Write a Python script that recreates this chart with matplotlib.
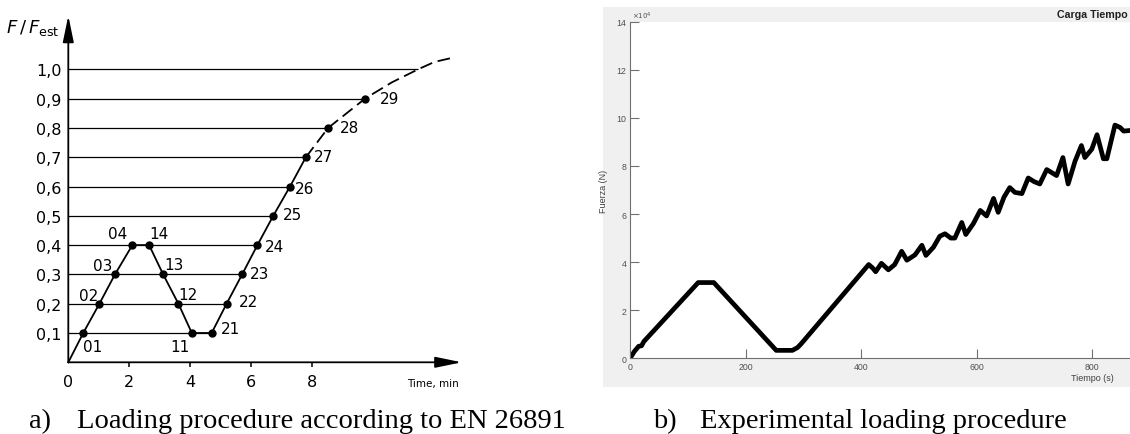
import matplotlib
matplotlib.use("Agg")
import matplotlib.pyplot as plt
from matplotlib.patches import Rectangle

# ---------------- data: (a) EN 26891 loading procedure ----------------
levels = [0.1, 0.2, 0.3, 0.4, 0.5, 0.6, 0.7, 0.8, 0.9, 1.0]
level_labels = ["0,1", "0,2", "0,3", "0,4", "0,5", "0,6", "0,7", "0,8", "0,9", "1,0"]
x_ticks_a = [0, 2, 4, 6, 8]

# first loading (01-04), unloading (14-11), reloading (21-29)  [min]
t_load1 = [0.49, 1.02, 1.53, 2.10]
f_load1 = [0.1, 0.2, 0.3, 0.4]
lab_load1 = ["01", "02", "03", "04"]
t_unload = [2.65, 3.11, 3.61, 4.05]
f_unload = [0.4, 0.3, 0.2, 0.1]
lab_unload = ["14", "13", "12", "11"]
t_load2 = [4.70, 5.19, 5.70, 6.20, 6.72, 7.27, 7.79, 8.52, 9.73]
f_load2 = [0.1, 0.2, 0.3, 0.4, 0.5, 0.6, 0.7, 0.8, 0.9]
lab_load2 = ["21", "22", "23", "24", "25", "26", "27", "28", "29"]
# horizontal guide lines end where they meet the curve
t_level_end = [4.70, 5.19, 5.70, 6.20, 6.72, 7.27, 7.79, 8.52, 9.73, 11.47]
# dashed (estimated) continuation of the curve
t_dash = [7.79, 8.52, 9.73, 10.6, 11.47, 12.0, 12.62]
f_dash = [0.7, 0.8, 0.9, 0.955, 1.0, 1.025, 1.04]

# ---------------- data: (b) experimental loading ----------------
t_exp = [0, 8, 15, 20, 24, 118, 145, 253, 281, 290, 296, 413, 420, 425, 435,
         447, 458, 470, 479, 493, 505, 512, 525, 536, 545, 555, 562, 574, 581,
         594, 606, 617, 629, 637, 647, 657, 666, 678, 689, 699, 709, 721, 738,
         749, 758, 770, 781, 787, 799, 808, 819, 825, 839, 848, 854, 875]
f_exp = [0, 0.3, 0.5, 0.52, 0.7, 3.15, 3.15, 0.33, 0.33, 0.45, 0.6, 3.9, 3.75,
         3.6, 3.95, 3.68, 3.9, 4.45, 4.08, 4.3, 4.7, 4.28, 4.62, 5.08, 5.18,
         5.0, 5.0, 5.65, 5.15, 5.6, 6.15, 5.92, 6.65, 6.07, 6.7, 7.1, 6.9,
         6.85, 7.5, 7.35, 7.25, 7.85, 7.6, 8.35, 7.25, 8.2, 8.85, 8.35, 8.7,
         9.3, 8.3, 8.3, 9.7, 9.6, 9.45, 9.5]
y_ticks_b = [0, 2, 4, 6, 8, 10, 12, 14]
x_ticks_b = [0, 200, 400, 600, 800]

W, H = 1130, 435
fig = plt.figure(figsize=(W / 100, H / 100), dpi=100)


def frac_box(x0, y_top, x1, y_bot):
    return [x0 / W, (H - y_bot) / H, (x1 - x0) / W, (y_bot - y_top) / H]


# ================= panel (a) =================
x_max_a, y_max_a = 12.9, 1.183
axa = fig.add_axes(frac_box(68.3, 363.3 - 293 * y_max_a, 68.3 + 30.5 * x_max_a, 363.3))
axa.set_xlim(0, x_max_a)
axa.set_ylim(0, y_max_a)
for s in axa.spines.values():
    s.set_visible(False)
axa.patch.set_alpha(0)

arrow_kw = dict(arrowstyle="-|>,head_length=1.6,head_width=0.33", color="black",
                lw=1.3, shrinkA=0, shrinkB=0, mutation_scale=10)
axa.annotate("", xy=(x_max_a, 0), xytext=(0, 0), arrowprops=arrow_kw,
             annotation_clip=False)
axa.annotate("", xy=(0, y_max_a), xytext=(0, 0), arrowprops=arrow_kw,
             annotation_clip=False)

axa.hlines(levels, 0, t_level_end, color="black", lw=0.9)

t_main = [0] + t_load1 + t_unload + t_load2[:7]
f_main = [0] + f_load1 + f_unload + f_load2[:7]
axa.plot(t_main, f_main, color="black", lw=1.3, solid_joinstyle="round",
         clip_on=False)
axa.plot(t_dash, f_dash, color="black", lw=1.3, dashes=(7, 3.2), clip_on=False)

t_pts = t_load1 + t_unload + t_load2
f_pts = f_load1 + f_unload + f_load2
labs = lab_load1 + lab_unload + lab_load2
axa.plot(t_pts, f_pts, "o", color="black", ms=5, clip_on=False)

offsets = {"01": (9, -13), "02": (-11, 8), "03": (-12, 9), "04": (-15, 12),
           "14": (10, 12), "13": (11, 10), "12": (10, 9), "11": (-12, -13),
           "21": (19, 4), "22": (22, 2), "23": (17, 1), "24": (17, -1),
           "25": (19, 1), "26": (15, -2), "27": (18, 1), "28": (21, 0),
           "29": (24, 0)}
for t, f, lab in zip(t_pts, f_pts, labs):
    axa.annotate(lab, (t, f), xytext=offsets[lab], textcoords="offset pixels",
                 ha="center", va="center", fontsize=11, family="DejaVu Sans",
                 annotation_clip=False)

axa.set_yticks(levels, level_labels)
axa.set_xticks(x_ticks_a, [str(v) for v in x_ticks_a])
axa.tick_params(axis="y", length=0, pad=4.8, labelsize=11.5)
axa.tick_params(axis="x", length=3.6, width=1.1, direction="out", pad=4.5,
                labelsize=11.5)
axa.xaxis.get_major_ticks()[0].tick1line.set_visible(False)

axa.text(11.96, -0.072, "Time, min", ha="center", va="center", fontsize=7.5)
fig.text(60 / W, 1 - 33 / H, r"$F\,/\,F_{\mathrm{est}}$", ha="right",
         va="baseline", fontsize=13)

# ================= panel (b) =================
fig.patches.append(Rectangle((603 / W, (H - 388) / H), (W - 603) / W, (388 - 8) / H,
                             transform=fig.transFigure, facecolor="#f0f0f0",
                             edgecolor="none", zorder=-5))
x_max_b = 1600
axb = fig.add_axes(frac_box(630, 22.7, 630 + 0.578 * x_max_b, 359.3))
axb.set_facecolor("white")
axb.set_xlim(0, x_max_b)
axb.set_ylim(0, 14)
axb.spines["top"].set_visible(False)
axb.spines["right"].set_visible(False)
for s in ("left", "bottom"):
    axb.spines[s].set_color("#707070")
    axb.spines[s].set_linewidth(0.8)
axb.plot(t_exp, f_exp, color="black", lw=3.4, solid_joinstyle="round",
         solid_capstyle="round")
axb.set_yticks(y_ticks_b, [str(v) for v in y_ticks_b])
axb.set_xticks(x_ticks_b, [str(v) for v in x_ticks_b])
axb.tick_params(direction="in", length=6.5, width=0.8, colors="#707070",
                labelcolor="#505050", labelsize=6.3, pad=2.5)
for lab in axb.get_xticklabels() + axb.get_yticklabels():
    lab.set_family("Liberation Sans")
axb.set_title("Carga Tiempo", fontsize=7.7, fontweight="bold",
              family="Liberation Sans", pad=3.5, color="#202020")
axb.set_xlabel("Tiempo (s)", fontsize=6.5, family="Liberation Sans",
               color="#404040")
axb.xaxis.set_label_coords(0.5, -0.045)
axb.set_ylabel("Fuerza (N)", fontsize=6.5, family="Liberation Sans",
               color="#404040")
axb.yaxis.set_label_coords(-0.0238, 0.5)
axb.text(0.002, 1.003, r"$\times10^{4}$", transform=axb.transAxes, fontsize=5,
         va="bottom", ha="left", color="#505050")

# ================= captions =================
cap_kw = dict(family="Liberation Serif", fontsize=20.5, va="baseline")
fig.text(29 / W, (H - 428) / H, "a)", **cap_kw)
fig.text(76.7 / W, (H - 428) / H, "Loading procedure according to EN 26891", **cap_kw)
fig.text(652.7 / W, (H - 428) / H, "b)", **cap_kw)
fig.text(700 / W, (H - 428) / H, "Experimental loading procedure", **cap_kw)

fig.savefig("out.png", dpi=100)
